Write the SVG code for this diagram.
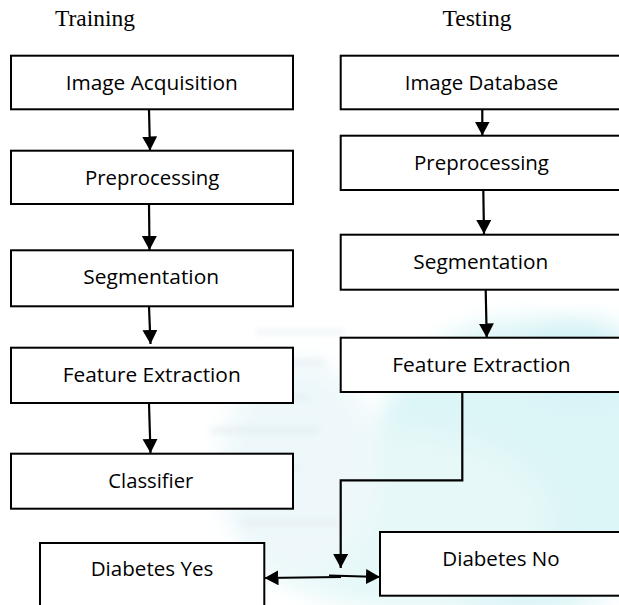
<svg xmlns="http://www.w3.org/2000/svg" width="619" height="605" viewBox="0 0 619 605">
  <style>
    .box { fill: #ffffff; stroke: #000000; stroke-width: 2; }
    .lbl { font-family: "Open Sans", Lato, sans-serif; font-size: 19.5px; fill: #000000; text-anchor: middle; }
    .title { font-family: "Liberation Serif", "Times New Roman", serif; font-size: 23px; fill: #000000; text-anchor: middle; }
    .conn { fill: none; stroke: #000000; stroke-width: 2.2; }
  </style>
  <defs>
    <marker id="arr" markerUnits="userSpaceOnUse" markerWidth="15" markerHeight="16" refX="14" refY="7.5" orient="auto">
      <path d="M0,0 L14,7.5 L0,15 Z" fill="#000000"/>
    </marker>
    <filter id="blur" x="-20%" y="-20%" width="140%" height="140%">
      <feGaussianBlur stdDeviation="12"/>
    </filter>
    <filter id="blur2" x="-20%" y="-50%" width="140%" height="200%">
      <feGaussianBlur stdDeviation="3"/>
    </filter>
  </defs>
  <rect x="0" y="0" width="619" height="605" fill="#ffffff"/>
  <g id="watermark">
    <ellipse cx="520" cy="470" rx="150" ry="150" fill="#dcf5f7" filter="url(#blur)"/>
    <ellipse cx="400" cy="520" rx="150" ry="90" fill="#e6f8f8" filter="url(#blur)"/>
    <ellipse cx="580" cy="360" rx="60" ry="40" fill="#d4f2f5" filter="url(#blur)"/>
    <ellipse cx="300" cy="470" rx="80" ry="110" fill="#eef8fa" filter="url(#blur)"/>
    <g filter="url(#blur2)" fill="#e4edf2" opacity="0.8">
      <rect x="255" y="330" width="90" height="4"/>
      <rect x="215" y="360" width="110" height="5"/>
      <rect x="190" y="395" width="120" height="5"/>
      <rect x="210" y="428" width="110" height="5"/>
      <rect x="200" y="465" width="100" height="5"/>
      <rect x="240" y="520" width="100" height="5"/>
    </g>
  </g>
  <g id="title-training"><text class="title" x="95" y="26" textLength="80" lengthAdjust="spacingAndGlyphs">Training</text></g>
  <g id="title-testing"><text class="title" x="477" y="26" textLength="69" lengthAdjust="spacingAndGlyphs">Testing</text></g>

  <g id="connectors">
    <line class="conn" x1="149" y1="110" x2="150" y2="150.5" marker-end="url(#arr)"/>
    <line class="conn" x1="149" y1="204" x2="149.5" y2="250" marker-end="url(#arr)"/>
    <line class="conn" x1="149" y1="306.5" x2="150.5" y2="344" marker-end="url(#arr)"/>
    <line class="conn" x1="149" y1="403.5" x2="150.5" y2="453" marker-end="url(#arr)"/>
    <line class="conn" x1="482.3" y1="109.5" x2="482.3" y2="135.5" marker-end="url(#arr)"/>
    <line class="conn" x1="483.3" y1="190" x2="484" y2="234" marker-end="url(#arr)"/>
    <line class="conn" x1="485.7" y1="290" x2="486.7" y2="337.5" marker-end="url(#arr)"/>
    <polyline class="conn" points="462.3,392 462.3,480.3 340.7,480.3 340.7,568" marker-end="url(#arr)"/>
    <line class="conn" x1="341" y1="577" x2="264.5" y2="578" marker-end="url(#arr)"/>
    <line class="conn" x1="329" y1="575.5" x2="380" y2="577" marker-end="url(#arr)"/>
  </g>

  <g id="train-acquisition">
    <rect class="box" x="11" y="55.7" width="282" height="53.6"/>
    <text class="lbl" x="151.7" y="90" textLength="172" lengthAdjust="spacingAndGlyphs">Image Acquisition</text>
  </g>
  <g id="train-preprocessing">
    <rect class="box" x="11" y="150.7" width="282" height="53.3"/>
    <text class="lbl" x="152.2" y="185" textLength="134.3" lengthAdjust="spacingAndGlyphs">Preprocessing</text>
  </g>
  <g id="train-segmentation">
    <rect class="box" x="11" y="250.3" width="282" height="56"/>
    <text class="lbl" x="151.2" y="283.7" textLength="135.7" lengthAdjust="spacingAndGlyphs">Segmentation</text>
  </g>
  <g id="train-feature">
    <rect class="box" x="11" y="347.7" width="282" height="55.3"/>
    <text class="lbl" x="151.7" y="382" textLength="178" lengthAdjust="spacingAndGlyphs">Feature Extraction</text>
  </g>
  <g id="train-classifier">
    <rect class="box" x="11" y="453.7" width="282" height="55"/>
    <text class="lbl" x="150.8" y="488" textLength="85" lengthAdjust="spacingAndGlyphs">Classifier</text>
  </g>

  <g id="test-database">
    <rect class="box" x="340.7" y="55.7" width="290" height="53.6"/>
    <text class="lbl" x="481.5" y="90" textLength="153.6" lengthAdjust="spacingAndGlyphs">Image Database</text>
  </g>
  <g id="test-preprocessing">
    <rect class="box" x="340.7" y="135.7" width="290" height="54.3"/>
    <text class="lbl" x="481.5" y="169.5" textLength="135" lengthAdjust="spacingAndGlyphs">Preprocessing</text>
  </g>
  <g id="test-segmentation">
    <rect class="box" x="340.7" y="234.7" width="290" height="55"/>
    <text class="lbl" x="480.8" y="268.7" textLength="135" lengthAdjust="spacingAndGlyphs">Segmentation</text>
  </g>
  <g id="test-feature">
    <rect class="box" x="340.7" y="337.7" width="290" height="54.3"/>
    <text class="lbl" x="481.5" y="372" textLength="178.4" lengthAdjust="spacingAndGlyphs">Feature Extraction</text>
  </g>

  <g id="diabetes-yes">
    <rect class="box" x="40" y="543" width="224.3" height="70"/>
    <text class="lbl" x="152" y="576.3" textLength="122.6" lengthAdjust="spacingAndGlyphs">Diabetes Yes</text>
  </g>
  <g id="diabetes-no">
    <rect class="box" x="380" y="532" width="250" height="63.7"/>
    <text class="lbl" x="501" y="565.7" textLength="117.4" lengthAdjust="spacingAndGlyphs">Diabetes No</text>
  </g>
</svg>
